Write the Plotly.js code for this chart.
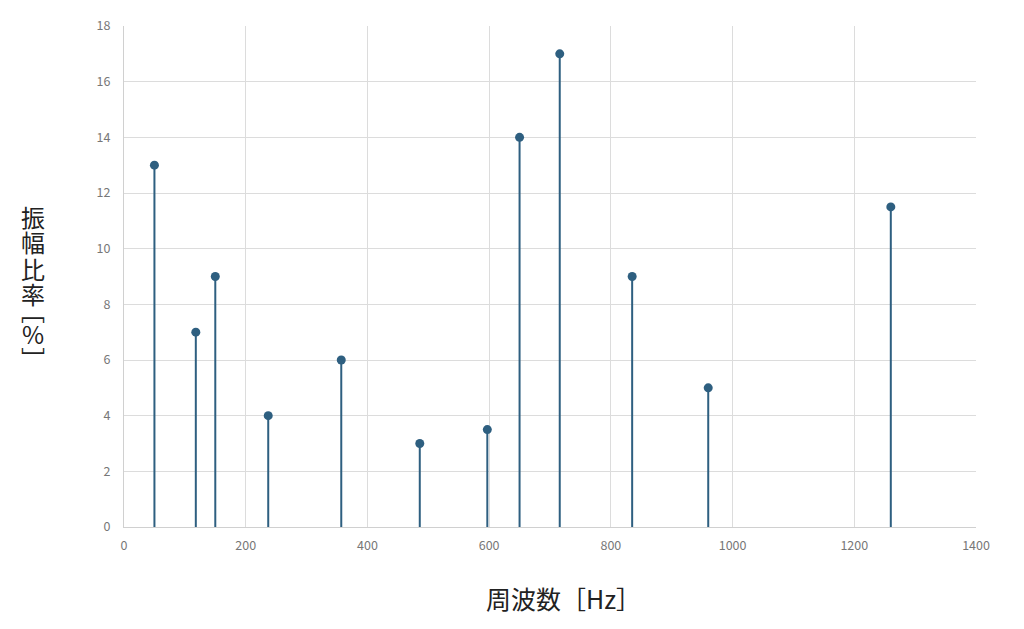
<!DOCTYPE html>
<html><head><meta charset="utf-8">
<script src="https://cdn.plot.ly/plotly-3.0.1.min.js"></script>
<style>html,body{margin:0;padding:0;background:#fff}#chart{width:1024px;height:629px}</style>
</head><body><div id="chart"></div>
<script>
const frequencies = [50, 118, 150, 237, 357, 486, 597, 650, 716, 835, 960, 1260];
const amplitudes = [13, 7, 9, 4, 6, 3, 3.5, 14, 17, 9, 5, 11.5];
const xTitle = '周波数［Hz］';
const yTitleChars = ['振', '幅', '比', '率', '﹇', '%', '﹈'];
const yTitleCharPx = [216, 242, 268, 294, 311, 333, 357];

const stemX = [], stemY = [];
frequencies.forEach((f, i) => { stemX.push(f, f, null); stemY.push(0, amplitudes[i], null); });
const color = '#2e5f80';
const data = [
  {x: stemX, y: stemY, mode: 'lines', type: 'scatter', line: {color: color, width: 2}, hoverinfo: 'skip', showlegend: false},
  {x: frequencies, y: amplitudes, mode: 'markers', type: 'scatter', marker: {color: color, size: 9}, showlegend: false}
];
const font = '"Noto Sans CJK JP", "Noto Sans", sans-serif';
const plotLeft = 124, plotW = 852, plotTop = 26, plotH = 501;
const annotations = yTitleChars.map((ch, i) => ({
  xref: 'paper', yref: 'paper', x: (33 - plotLeft) / plotW, y: (plotTop + plotH - yTitleCharPx[i]) / plotH,
  xanchor: 'center', yanchor: 'middle', text: ch, showarrow: false,
  font: {size: 24, color: '#222', family: font}
}));
annotations.push({
  xref: 'paper', yref: 'paper', x: (563 - plotLeft) / plotW, y: (plotTop + plotH - 598) / plotH,
  xanchor: 'center', yanchor: 'middle', text: xTitle, showarrow: false,
  font: {size: 25, color: '#222', family: font}
});
const layout = {
  width: 1024, height: 629,
  margin: {l: plotLeft, r: 48, t: plotTop, b: 102},
  paper_bgcolor: '#fff', plot_bgcolor: '#fff',
  font: {family: font, color: '#777'},
  xaxis: {range: [0, 1400], dtick: 200, tick0: 0, showgrid: true, gridcolor: '#dcdcdc', gridwidth: 1,
    showline: true, linecolor: '#d0d0d0', linewidth: 1, zeroline: false, ticks: '', tickfont: {size: 12.5, color: '#777'},
    ticklabelstandoff: 7},
  yaxis: {range: [0, 18], dtick: 2, tick0: 0, showgrid: true, gridcolor: '#dcdcdc', gridwidth: 1,
    showline: true, linecolor: '#d0d0d0', linewidth: 1, zeroline: false, ticks: '', tickfont: {size: 12.5, color: '#777'},
    ticklabelstandoff: 10},
  annotations: annotations
};
Plotly.newPlot('chart', data, layout, {displayModeBar: false, staticPlot: true});
</script></body></html>
